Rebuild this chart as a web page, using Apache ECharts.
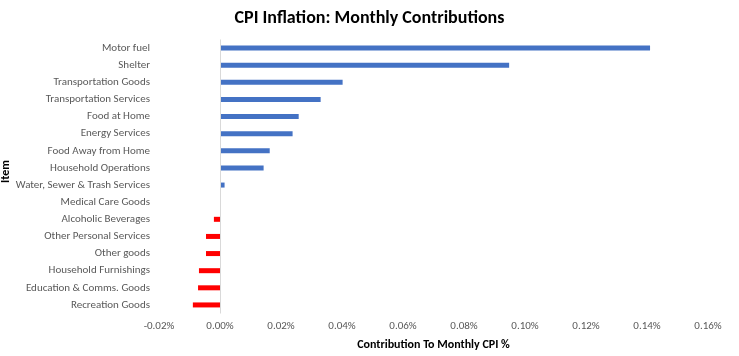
<!DOCTYPE html>
<html><head><meta charset="utf-8">
<script src="https://cdn.jsdelivr.net/npm/echarts@6/dist/echarts.min.js"></script>
<style>html,body{margin:0;padding:0;background:#fff}#c{width:739px;height:356px}</style>
</head><body><div id="c"></div>
<script>
var categories = ["Motor fuel","Shelter","Transportation Goods","Transportation Services","Food at Home","Energy Services","Food Away from Home","Household Operations","Water, Sewer & Trash Services","Medical Care Goods","Alcoholic Beverages","Other Personal Services","Other goods","Household Furnishings","Education & Comms. Goods","Recreation Goods"];
var values = [0.1410,0.0948,0.0402,0.0330,0.0258,0.0238,0.0163,0.0143,0.0015,0.0000,-0.0020,-0.0046,-0.0046,-0.0069,-0.0072,-0.0089];
var xTicks = {min:-0.02, max:0.16, interval:0.02};

var FONT = "Carlito, 'Liberation Sans Narrow', 'Liberation Sans', sans-serif";
var chart = echarts.init(document.getElementById('c'));
chart.setOption({
  animation:false,
  title:{text:'CPI Inflation: Monthly Contributions', left:'center', top:4,
    textStyle:{fontFamily:FONT, fontSize:18, fontWeight:'bold', color:'#000'}},
  grid:{left:159, right:31, top:39.5, bottom:42.5, containLabel:false, outerBoundsMode:'none'},
  xAxis:{type:'value', min:xTicks.min, max:xTicks.max, interval:xTicks.interval,
    name:'Contribution To Monthly CPI %', nameLocation:'middle', nameGap:25, nameMoveOverlap:false,
    nameTextStyle:{fontFamily:FONT, fontSize:12, fontWeight:'bold', color:'#000'},
    axisLine:{show:false}, axisTick:{show:false}, splitLine:{show:false},
    axisLabel:{fontFamily:FONT, fontSize:11, color:'#595959', margin:7,
      formatter:function(v){return v.toFixed(2)+'%';}}},
  yAxis:{type:'category', data:categories, inverse:true,
    name:'Item', nameLocation:'middle', nameGap:147, nameRotate:90, nameMoveOverlap:false,
    nameTextStyle:{fontFamily:FONT, fontSize:12, fontWeight:'bold', color:'#000', padding:[0,0,0,10]},
    axisLine:{show:false}, axisTick:{show:false},
    axisLabel:{fontFamily:FONT, fontSize:11, color:'#595959', margin:9}},
  series:[{type:'bar', barWidth:5,
    data:values.map(function(v){return {value:v, itemStyle:{color: v<0 ? '#FF0000' : '#4472C4'}};}),
    markLine:{silent:true, symbol:'none', label:{show:false},
      lineStyle:{color:'#d9d9d9', type:'solid', width:1}, data:[{xAxis:0}]}}]
});
</script></body></html>
